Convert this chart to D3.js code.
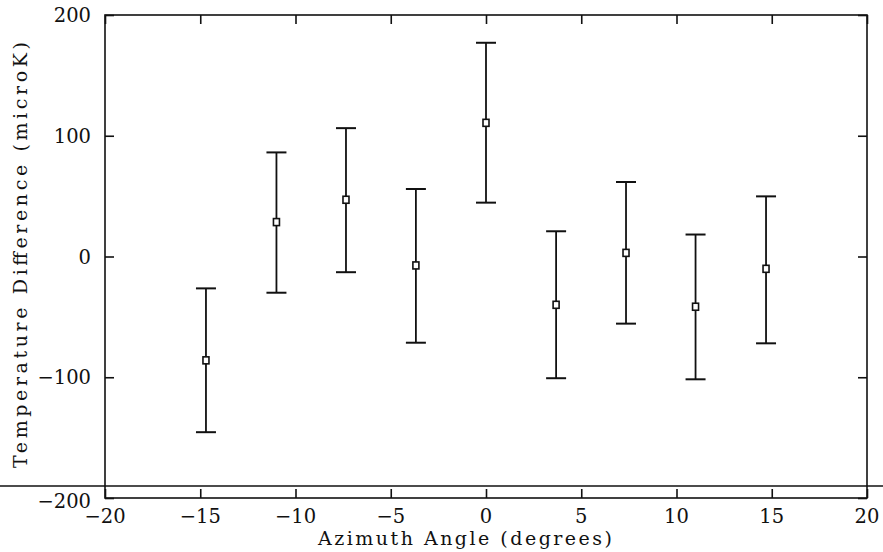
<!DOCTYPE html>
<html>
<head>
<meta charset="utf-8">
<script src="https://cdn.jsdelivr.net/npm/d3@7"></script>
<style>
  body { margin: 0; background: #fff; }
  svg { display: block; }
  text { font-family: "DejaVu Serif", "Liberation Serif", serif; fill: #111; }
</style>
</head>
<body>
<div id="chart"></div>
<script>
// azimuth angle (deg), mean and error bar ends (microK)
const angles = [-14.7, -11.0, -7.35, -3.68, 0, 3.68, 7.35, 11.0, 14.7];
const means  = [-86, 28.5, 47, -7.4, 110.7, -40, 3, -41.6, -10.2];
const upper  = [-26.4, 86.2, 106.3, 55.9, 177, 20.9, 61.7, 18.2, 49.8];
const lower  = [-145.5, -30, -13, -71.4, 44.6, -100.8, -55.6, -101.7, -71.9];
const xTicks = [-20, -15, -10, -5, 0, 5, 10, 15, 20];
const yTicks = [-200, -100, 0, 100, 200];

const W = 883, H = 552;
const plotL = 105, plotR = 867, plotT = 15, plotB = 498;

const svg = d3.select('#chart').append('svg')
    .attr('width', W).attr('height', H);

const x = d3.scaleLinear().domain([-20, 20]).range([plotL, plotR]);
const y = d3.scaleLinear().domain([-200, 200]).range([plotB, plotT]);

const ink = '#111';

// frame
svg.append('rect')
    .attr('x', plotL).attr('y', plotT)
    .attr('width', plotR - plotL).attr('height', plotB - plotT)
    .attr('fill', 'none').attr('stroke', ink).attr('stroke-width', 1.6);

// inward ticks, all four sides
const tl = 9;
svg.append('g').attr('transform', `translate(0,${plotB})`)
    .call(d3.axisBottom(x).tickValues(xTicks).tickSize(-tl).tickFormat(''))
    .call(g => g.select('.domain').remove());
svg.append('g').attr('transform', `translate(0,${plotT})`)
    .call(d3.axisTop(x).tickValues(xTicks).tickSize(-tl).tickFormat(''))
    .call(g => g.select('.domain').remove());
svg.append('g').attr('transform', `translate(${plotL},0)`)
    .call(d3.axisLeft(y).tickValues(yTicks).tickSize(-tl).tickFormat(''))
    .call(g => g.select('.domain').remove());
svg.append('g').attr('transform', `translate(${plotR},0)`)
    .call(d3.axisRight(y).tickValues(yTicks).tickSize(-tl).tickFormat(''))
    .call(g => g.select('.domain').remove());
svg.selectAll('.tick line').attr('stroke', ink).attr('stroke-width', 1.6);

const fmt = d => d < 0 ? '\u2212' + Math.abs(d) : String(d);

// tick labels
svg.append('g').selectAll('text').data(xTicks).join('text')
    .attr('x', d => x(d)).attr('y', plotB + 25)
    .attr('text-anchor', 'middle')
    .attr('font-size', 19.5)
    .text(fmt);

svg.append('g').selectAll('text').data(yTicks).join('text')
    .attr('x', plotL - 14).attr('y', d => y(d) + 7 + (d === -200 ? 3 : 0))
    .attr('text-anchor', 'end')
    .attr('font-size', 19.5)
    .text(fmt);

// axis titles
svg.append('text')
    .attr('x', 318).attr('y', 545)
    .attr('font-size', 19)
    .attr('textLength', 294).attr('lengthAdjust', 'spacing')
    .text('Azimuth Angle (degrees)');

svg.append('text')
    .attr('transform', 'translate(27,468) rotate(-90)')
    .attr('font-size', 19)
    .attr('textLength', 426).attr('lengthAdjust', 'spacing')
    .text('Temperature Difference (microK)');

// scan line across the page
svg.append('line')
    .attr('x1', 0).attr('x2', W).attr('y1', 486).attr('y2', 486)
    .attr('stroke', ink).attr('stroke-width', 1.3);

// error bars
const pts = angles.map((a, i) => ({ a, m: means[i], hi: upper[i], lo: lower[i] }));
const cap = 10;
const bars = svg.append('g').selectAll('g').data(pts).join('g');
bars.append('line')
    .attr('x1', d => x(d.a)).attr('x2', d => x(d.a))
    .attr('y1', d => y(d.hi)).attr('y2', d => y(d.lo))
    .attr('stroke', ink).attr('stroke-width', 1.8);
bars.append('line')
    .attr('x1', d => x(d.a) - cap).attr('x2', d => x(d.a) + cap)
    .attr('y1', d => y(d.hi)).attr('y2', d => y(d.hi))
    .attr('stroke', ink).attr('stroke-width', 2);
bars.append('line')
    .attr('x1', d => x(d.a) - cap).attr('x2', d => x(d.a) + cap)
    .attr('y1', d => y(d.lo)).attr('y2', d => y(d.lo))
    .attr('stroke', ink).attr('stroke-width', 2);
bars.append('rect')
    .attr('x', d => x(d.a) - 3).attr('y', d => y(d.m) - 3.5)
    .attr('width', 6).attr('height', 7)
    .attr('fill', '#fff').attr('stroke', ink).attr('stroke-width', 1.6);
</script>
</body>
</html>
